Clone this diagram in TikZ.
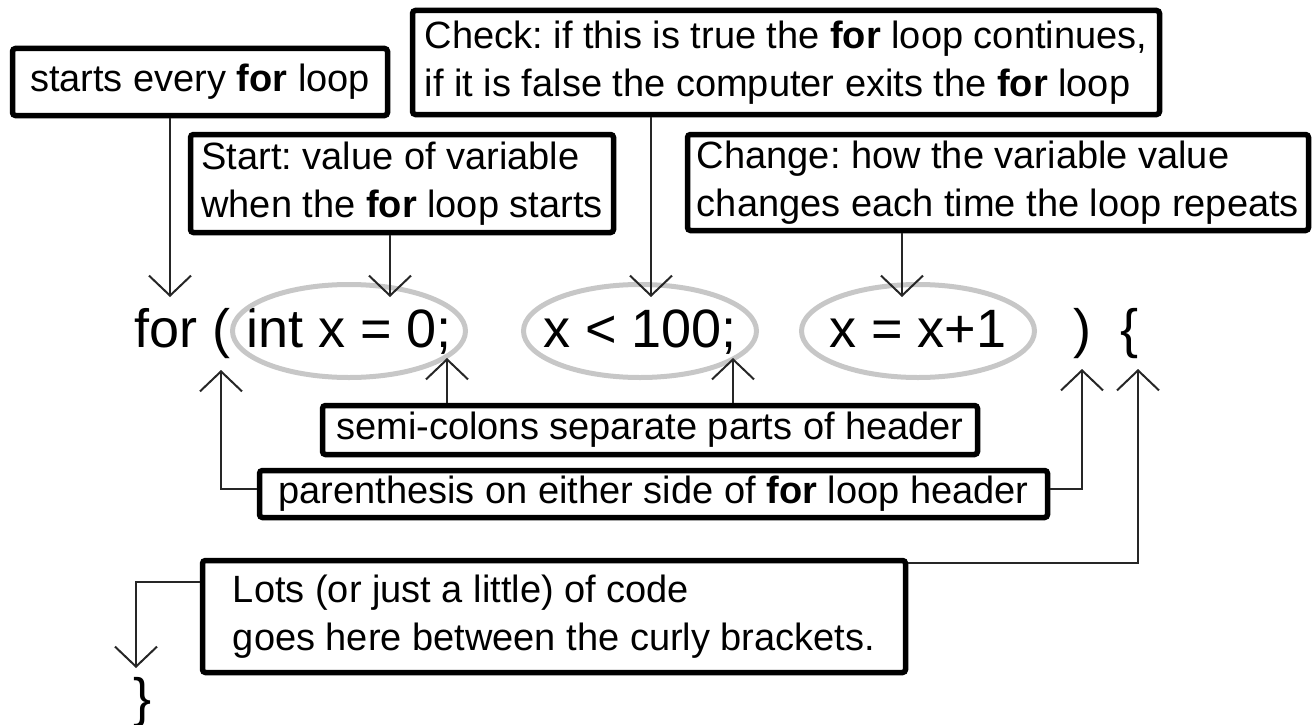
\documentclass[tikz,border=0pt]{standalone}
\usepackage{fontspec}
\setmainfont{Liberation Sans}
\usetikzlibrary{arrows.meta}
\frenchspacing
\begin{document}
\begin{tikzpicture}[x=1pt,y=-1pt,
  box/.style={draw=black, line width=5.5pt, rounded corners=3pt, fill=white, inner xsep=2pt, inner ysep=0pt, align=left, font=\fontsize{38}{48}\selectfont},
  code/.style={font=\fontsize{54}{60}\selectfont, inner sep=0pt, text height=39pt, text depth=7pt},
  ell/.style={draw=black!22, line width=5pt},
  conn/.style={draw=black!85, line width=2pt, -{Straight Barb[length=20pt,width=42pt]}}
]
\useasboundingbox (0,0) rectangle (1314,725);

% boxes
\node[box, minimum width=375pt, minimum height=67pt] (b1) at (200,82) {starts every \textbf{for} loop};
\node[box, minimum width=747pt, minimum height=104pt] (b2) at (786,62.5) {Check: if this is true the \textbf{for} loop continues,\\if it is false the computer exits the \textbf{for} loop};
\node[box, minimum width=423pt, minimum height=98pt] (b3) at (402,183.5) {Start: value of variable\\when the \textbf{for} loop starts};
\node[box, minimum width=621pt, minimum height=96pt] (b4) at (998,182.5) {Change: how the variable value\\changes each time the loop repeats};
\node[box, minimum width=655pt, minimum height=49pt] (sb) at (650,430) {semi-colons separate parts of header};
\node[box, minimum width=788pt, minimum height=47pt] (pb) at (653.5,494) {parenthesis on either side of \textbf{for} loop header};
\node[box, minimum width=703pt, minimum height=112pt] (lb) at (554,616.5) {Lots (or just a little) of code\\goes here between the curly brackets.};

% code line
\node[code, anchor=base west] (t0) at (134,347) {for (};
\node[code] (t1) at (349,331) {int x = 0;};
\node[code] (t2) at (640,331) {x < 100;};
\node[code] (t3) at (918,331) {x = x+1};
\node[code, anchor=base west] (t4) at (1073,347) {)};
\node[code, anchor=base west] (t5) at (1120,347) {\{};
\node[code, anchor=base west] (t6) at (133,716) {\}};

% ellipses
\draw[ell] (t1.center) ellipse [x radius=116.5, y radius=46.5];
\draw[ell] (t2.center) ellipse [x radius=116.5, y radius=46.5];
\draw[ell] (t3.center) ellipse [x radius=116.5, y radius=46.5];

% arrow tips
\coordinate (p1) at (170,297);
\coordinate (p2) at (390,297);
\coordinate (p3) at (651,297);
\coordinate (p4) at (902,297);
\coordinate (s1) at (447,358);
\coordinate (s2) at (733,358);
\coordinate (q1) at (221,370);
\coordinate (q2) at (1082,369);
\coordinate (q3) at (1138,369);
\coordinate (q4) at (136,668);

\draw[conn] (b1.south -| p1) -- (p1);
\draw[conn] (b3.south -| p2) -- (p2);
\draw[conn] (b2.south -| p3) -- (p3);
\draw[conn] (b4.south -| p4) -- (p4);
\draw[conn] (sb.north -| s1) -- (s1);
\draw[conn] (sb.north -| s2) -- (s2);
\draw[conn] ([yshift=5pt]pb.west) -| (q1);
\draw[conn] ([yshift=5pt]pb.east) -| (q2);
\draw[conn] ([yshift=54pt]lb.east) -| (q3);
\draw[conn] ([yshift=34.5pt]lb.west) -| (q4);
\end{tikzpicture}
\end{document}
